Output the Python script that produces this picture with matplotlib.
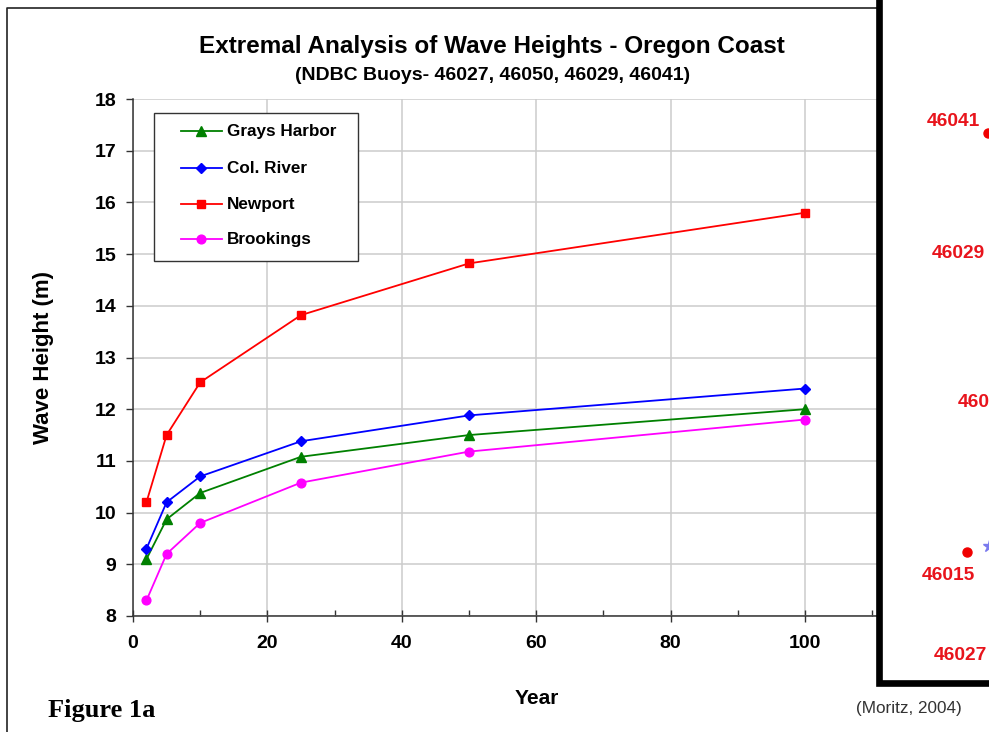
import matplotlib
matplotlib.use("Agg")
import matplotlib.pyplot as plt
from matplotlib.patches import Rectangle
from matplotlib.lines import Line2D

plt.rcParams['font.family'] = ['Liberation Sans', 'DejaVu Sans']

years = [2, 5, 10, 25, 50, 100]
grays = [9.1, 9.87, 10.38, 11.08, 11.5, 12.0]
colr = [9.3, 10.2, 10.7, 11.38, 11.88, 12.4]
newport = [10.2, 11.5, 12.52, 13.82, 14.82, 15.8]
brookings = [8.3, 9.2, 9.8, 10.58, 11.18, 11.8]
xticks = [0, 20, 40, 60, 80, 100, 120]
xlabels = ['0', '20', '40', '60', '80', '100', '']
yticks = list(range(8, 19))
buoys = [("46041", 953, 122), ("46029", 958, 253), ("460", 974, 402),
         ("46015", 948, 576), ("46027", 960, 655)]

W, H = 989, 732
fig = plt.figure(figsize=(W/100, H/100), dpi=100)
L, R, T, B = 133, 939.4, 99, 616
ax = fig.add_axes([L/W, 1-B/H, (R-L)/W, (B-T)/H])
ax.set_xlim(0, 120)
ax.set_ylim(8, 18)
ax.set_xticks(xticks, labels=xlabels)
ax.set_xticks(range(10, 120, 20), minor=True)
ax.set_yticks(yticks)
ax.grid(True, which='major', color='#cccccc', lw=1.1)
ax.set_axisbelow(True)
for s in ('top', 'right'):
    ax.spines[s].set_visible(False)
for s in ('left', 'bottom'):
    ax.spines[s].set_color('#333333')
    ax.spines[s].set_linewidth(1.1)
ax.tick_params(axis='both', which='major', direction='out', length=5, width=1, color='#333333', pad=7)
ax.tick_params(axis='x', which='major', direction='inout', length=8, pad=10)
ax.tick_params(axis='x', which='minor', direction='in', length=4, width=1, color='#333333')
for t in ax.get_xticklabels() + ax.get_yticklabels():
    t.set_fontsize(14)
    t.set_fontweight('bold')

series = [("Grays Harbor", grays, '#008000', '^', 7),
          ("Col. River", colr, '#0000ff', 'D', 5),
          ("Newport", newport, '#ff0000', 's', 6),
          ("Brookings", brookings, '#ff00ff', 'o', 6.3)]
for name, vals, c, m, ms in series:
    ax.plot(years, vals, color=c, lw=1.3, marker=m, ms=ms, mec=c, mfc=c, label=name, zorder=3)

fig.text(492/W, 1-46/H, "Extremal Analysis of Wave Heights - Oregon Coast",
         ha='center', va='center', fontsize=17.5, fontweight='bold')
fig.text(493/W, 1-76/H, "(NDBC Buoys- 46027, 46050, 46029, 46041)",
         ha='center', va='center', fontsize=14, fontweight='bold')
fig.text(44/W, 1-358/H, "Wave Height (m)", rotation=90, ha='center', va='center',
         fontsize=16, fontweight='bold')
fig.text(537/W, 1-698/H, "Year", ha='center', va='center', fontsize=15, fontweight='bold')
fig.text(48/W, 1-711/H, "Figure 1a", ha='left', va='center', fontsize=19, fontweight='bold',
         family='Liberation Serif')
fig.text(909/W, 1-708/H, "(Moritz, 2004)", ha='center', va='center', fontsize=12.3, color='#333333')

# legend box, drawn by hand to follow the reference placement
fig.add_artist(Rectangle((154/W, 1-261/H), 204/W, 148/H, transform=fig.transFigure,
                         fc='white', ec='#333333', lw=1, zorder=5))
ly = [131, 168, 204, 239]
for (name, vals, c, m, ms), y in zip(series, ly):
    fig.add_artist(Line2D([181/W, 222/W], [1-y/H]*2, transform=fig.transFigure, color=c, lw=1.3,
                          zorder=6))
    fig.add_artist(Line2D([201/W], [1-y/H], transform=fig.transFigure, color=c,
                          marker=m, ms=ms, mec=c, mfc=c, zorder=6))
    fig.text(227/W, 1-(y+0.5)/H, name, ha='left', va='center', fontsize=12.3, fontweight='bold', zorder=7)

# outer frame of the figure
fig.add_artist(Line2D([6.5/W, 6.5/W, 877/W], [0, 1-8/H, 1-8/H], transform=fig.transFigure,
                      color='#222222', lw=1.2, zorder=8))

# inset map panel on the right: white panel with thick black border
fig.add_artist(Rectangle((879.3/W, 1-683/H), 130/W, 700/H, transform=fig.transFigure,
                         fc='white', ec='black', lw=4.8, zorder=9))
for name, x, y in buoys:
    fig.text(x/W, 1-y/H, name, ha='center', va='center', fontsize=13.8, fontweight='bold',
             color='#e8141c', zorder=10)
fig.add_artist(Line2D([967/W, 988/W], [1-552/H, 1-133/H], transform=fig.transFigure, ls='none',
                      marker='o', ms=6.5, color='#f00000', zorder=10))
fig.add_artist(Line2D([989/W], [1-546/H], transform=fig.transFigure, ls='none',
                      marker='*', ms=9, color='#7a7aee', zorder=10))
fig.savefig("out.png", dpi=100)
